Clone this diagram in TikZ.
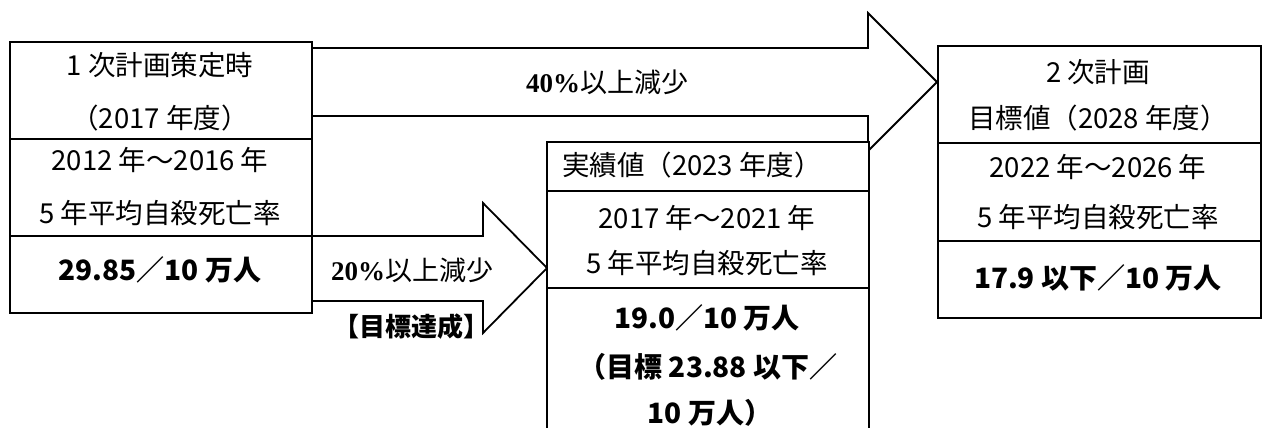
\documentclass[tikz,border=0pt]{standalone}
\usepackage{fontspec}
\setmainfont{Noto Sans CJK JP}
\newfontfamily\serifb{Liberation Serif}
\begin{document}
\begin{tikzpicture}[x=1pt,y=-1pt,
  box/.style={draw,line width=1.8pt,fill=white,inner sep=0pt,anchor=north west},
  blockarrow/.style={draw,line width=1.8pt,fill=white,line join=miter},
  txt/.style={inner sep=0pt,font=\fontsize{27.5}{30}\selectfont},
  boldtxt/.style={inner sep=0pt,font=\fontsize{28}{32}\selectfont\bfseries},
  arrowtxt/.style={inner sep=0pt,font=\fontsize{27}{30}\selectfont}]
\useasboundingbox (0,0) rectangle (1266,428);
\clip (0,0) rectangle (1266,428);
\fill[white] (0,0) rectangle (1266,428);
% block arrows
\draw[blockarrow] (312,48) -- (868,48) -- (868,13) -- (937,82) -- (868,151) -- (868,116) -- (312,116) -- cycle;
\draw[blockarrow] (312,236) -- (483,236) -- (483,203) -- (547,268) -- (483,333) -- (483,301) -- (312,301) -- cycle;
% left box
\node[box,minimum width=302pt,minimum height=97pt] (L1) at (9,41) {};
\node[box,minimum width=302pt,minimum height=97pt] (L2) at (9,138) {};
\node[box,minimum width=302pt,minimum height=77pt] (L3) at (9,235) {};
% middle box
\node[box,minimum width=322pt,minimum height=49pt] (M1) at (546,141) {};
\node[box,minimum width=322pt,minimum height=97pt] (M2) at (546,190) {};
\node[box,minimum width=322pt,minimum height=160pt] (M3) at (546,287) {};
% right box
\node[box,minimum width=323pt,minimum height=97pt] (R1) at (937,45) {};
\node[box,minimum width=323pt,minimum height=98pt] (R2) at (937,142) {};
\node[box,minimum width=323pt,minimum height=77pt] (R3) at (937,240) {};
% left texts
\node[txt] (l1a) at (160,65) {1 次計画策定時};
\node[txt] (l1b) at (160,118) {（2017 年度）};
\node[txt] (l2a) at (160,160) {2012 年〜2016 年};
\node[txt] (l2b) at (160,213) {5 年平均自殺死亡率};
\node[boldtxt] (l3a) at (160,270) {29.85／10 万人};
% middle texts
\node[txt] (m1a) at (692,165) {実績値（2023 年度）};
\node[txt] (m2a) at (707,218) {2017 年〜2021 年};
\node[txt] (m2b) at (707,263) {5 年平均自殺死亡率};
\node[boldtxt] (m3a) at (707,318) {19.0／10 万人};
\node[boldtxt] (m3b) at (708,367) {（目標 23.88 以下／};
\node[boldtxt] (m3c) at (710,413) {10 万人）};
% right texts
\node[txt] (r1a) at (1098,72) {2 次計画};
\node[txt] (r1b) at (1098,118) {目標値（2028 年度）};
\node[txt] (r2a) at (1098,167) {2022 年〜2026 年};
\node[txt] (r2b) at (1098,217) {5 年平均自殺死亡率};
\node[boldtxt] (r3a) at (1098,278) {17.9 以下／10 万人};
% arrow labels
\node[arrowtxt] (a1) at (607,82) {{\serifb\bfseries 40\%}以上減少};
\node[arrowtxt] (a2) at (412,270) {{\serifb\bfseries 20\%}以上減少};
\node[inner sep=0pt,font=\fontsize{26}{28}\selectfont\bfseries] (a3) at (411,327) {【目標達成】};
\end{tikzpicture}
\end{document}
